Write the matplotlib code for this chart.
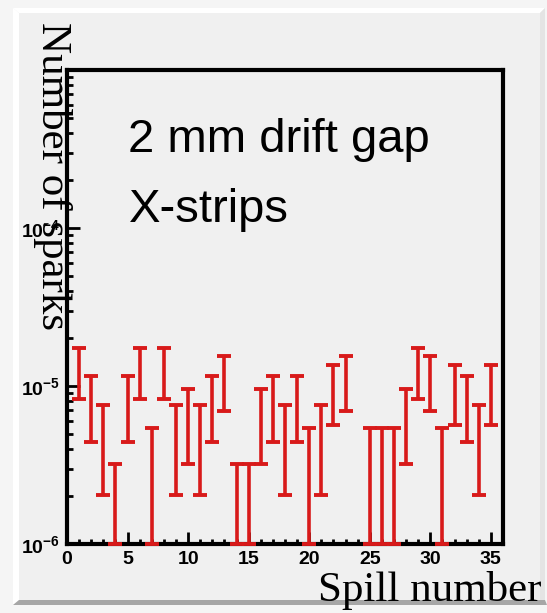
import numpy as np
import matplotlib
matplotlib.use("Agg")
import matplotlib.pyplot as plt
from matplotlib.patches import Polygon
from matplotlib.ticker import FixedLocator, MultipleLocator, LogLocator, FuncFormatter, NullFormatter

plt.rcParams["mathtext.fontset"] = "custom"
plt.rcParams["mathtext.rm"] = "Liberation Sans"
plt.rcParams["mathtext.bf"] = "Liberation Sans:bold"

# Spark rate per spill and its statistical uncertainty
spill = np.arange(1, 36)
rate = [1.28e-5, 8.0e-6, 4.8e-6, 1.6e-6, 8.0e-6, 1.28e-5, 3.2e-6, 1.28e-5, 4.8e-6, 6.4e-6,
        4.8e-6, 8.0e-6, 1.12e-5, 1.6e-6, 1.6e-6, 6.4e-6, 8.0e-6, 4.8e-6, 8.0e-6, 3.2e-6,
        4.8e-6, 9.6e-6, 1.12e-5, 0.0, 3.2e-6, 3.2e-6, 3.2e-6, 6.4e-6, 1.28e-5, 1.12e-5,
        3.2e-6, 9.6e-6, 8.0e-6, 4.8e-6, 9.6e-6]
rate_err = [4.53e-6, 3.58e-6, 2.77e-6, 1.6e-6, 3.58e-6, 4.53e-6, 2.26e-6, 4.53e-6, 2.77e-6, 3.2e-6,
            2.77e-6, 3.58e-6, 4.23e-6, 1.6e-6, 1.6e-6, 3.2e-6, 3.58e-6, 2.77e-6, 3.58e-6, 2.26e-6,
            2.77e-6, 3.92e-6, 4.23e-6, 0.0, 2.26e-6, 2.26e-6, 2.26e-6, 3.2e-6, 4.53e-6, 4.23e-6,
            2.26e-6, 3.92e-6, 3.58e-6, 2.77e-6, 3.92e-6]

x_range = (0, 36)
y_range = (1e-6, 1e-3)
y_major = [1e-6, 1e-5, 1e-4, 1e-3]
y_labeled = [1e-6, 1e-5, 1e-4]

W, H = 547, 613
fig = plt.figure(figsize=(W / 100, H / 100), dpi=100)
fig.patch.set_facecolor("#f5f5f5")


def fpt(px, py):
    return (px / W, 1 - py / H)


def add_poly(pts, color, z=0):
    fig.add_artist(Polygon([fpt(*p) for p in pts], closed=True, transform=fig.transFigure,
                           facecolor=color, edgecolor="none", zorder=z))


# canvas pad with raised border
add_poly([(13, 8), (545, 8), (545, 600), (13, 600)], "#f0f0f0", z=-5)
add_poly([(13, 8), (545, 8), (540, 13), (19, 13)], "#ffffff", z=-4)
add_poly([(13, 8), (19, 13), (19, 600), (13, 605)], "#ffffff", z=-4)
add_poly([(13, 605), (19, 600), (545, 600), (547, 605)], "#a6a6a6", z=-4)
add_poly([(540, 13), (545, 8), (545, 600), (540, 600)], "#e4e4e4", z=-4)

ax = fig.add_axes([67 / W, 1 - 544 / H, (503 - 67) / W, (544 - 70) / H])
ax.set_facecolor("#f0f0f0")
ax.set_yscale("log")
ax.set_xlim(*x_range)
ax.set_ylim(*y_range)

r = np.asarray(rate)
e = np.asarray(rate_err)
has = r > 0
lower = np.maximum(r[has] - e[has], y_range[0])
upper = r[has] + e[has]
eb = ax.errorbar(spill[has], r[has], yerr=[r[has] - lower, upper - r[has]], fmt="none",
                 ecolor="#d81a1a", elinewidth=2.6, capsize=5, capthick=2.8, zorder=3)
for cl in eb[1]:
    cl.set_clip_on(False)

for side in ["left", "right", "top", "bottom"]:
    ax.spines[side].set_linewidth(3.0)
    ax.spines[side].set_color("black")

ax.xaxis.set_major_locator(MultipleLocator(5))
ax.xaxis.set_minor_locator(MultipleLocator(1))
ax.yaxis.set_major_locator(FixedLocator(y_major))
ax.yaxis.set_minor_locator(LogLocator(base=10, subs=np.arange(2, 10)))
ax.yaxis.set_minor_formatter(NullFormatter())


def ylab(v, pos):
    if v in y_labeled:
        return r"$\mathbf{10^{%d}}$" % int(round(np.log10(v)))
    return ""


ax.yaxis.set_major_formatter(FuncFormatter(ylab))
ax.xaxis.set_major_formatter(FuncFormatter(lambda v, p: "%d" % v))

ax.tick_params(axis="both", which="both", direction="in", top=False, right=False, width=2.0,
               color="black")
ax.tick_params(axis="x", which="major", length=8.5, pad=5)
ax.tick_params(axis="x", which="minor", length=3.8)
ax.tick_params(axis="y", which="major", length=9.5, pad=5)
ax.tick_params(axis="y", which="minor", length=4.5)
for lab in ax.get_xticklabels():
    lab.set_fontfamily("Liberation Sans")
    lab.set_fontweight("bold")
    lab.set_fontsize(14)
for lab in ax.get_yticklabels():
    lab.set_fontsize(14)

ax.text(0.141, 0.827, "2 mm drift gap", transform=ax.transAxes, fontsize=34,
        family="Liberation Sans", va="baseline", ha="left")
ax.text(0.141, 0.679, "X-strips", transform=ax.transAxes, fontsize=34,
        family="Liberation Sans", va="baseline", ha="left")

fig.text(*fpt(52, 22), "Number of sparks", rotation=270, ha="center", va="top",
         family="Liberation Serif", fontsize=31, zorder=10)
fig.text(*fpt(542, 601), "Spill number", ha="right", va="baseline",
         family="Liberation Serif", fontsize=31, zorder=10)

fig.savefig("out.png", dpi=100, facecolor=fig.get_facecolor())
